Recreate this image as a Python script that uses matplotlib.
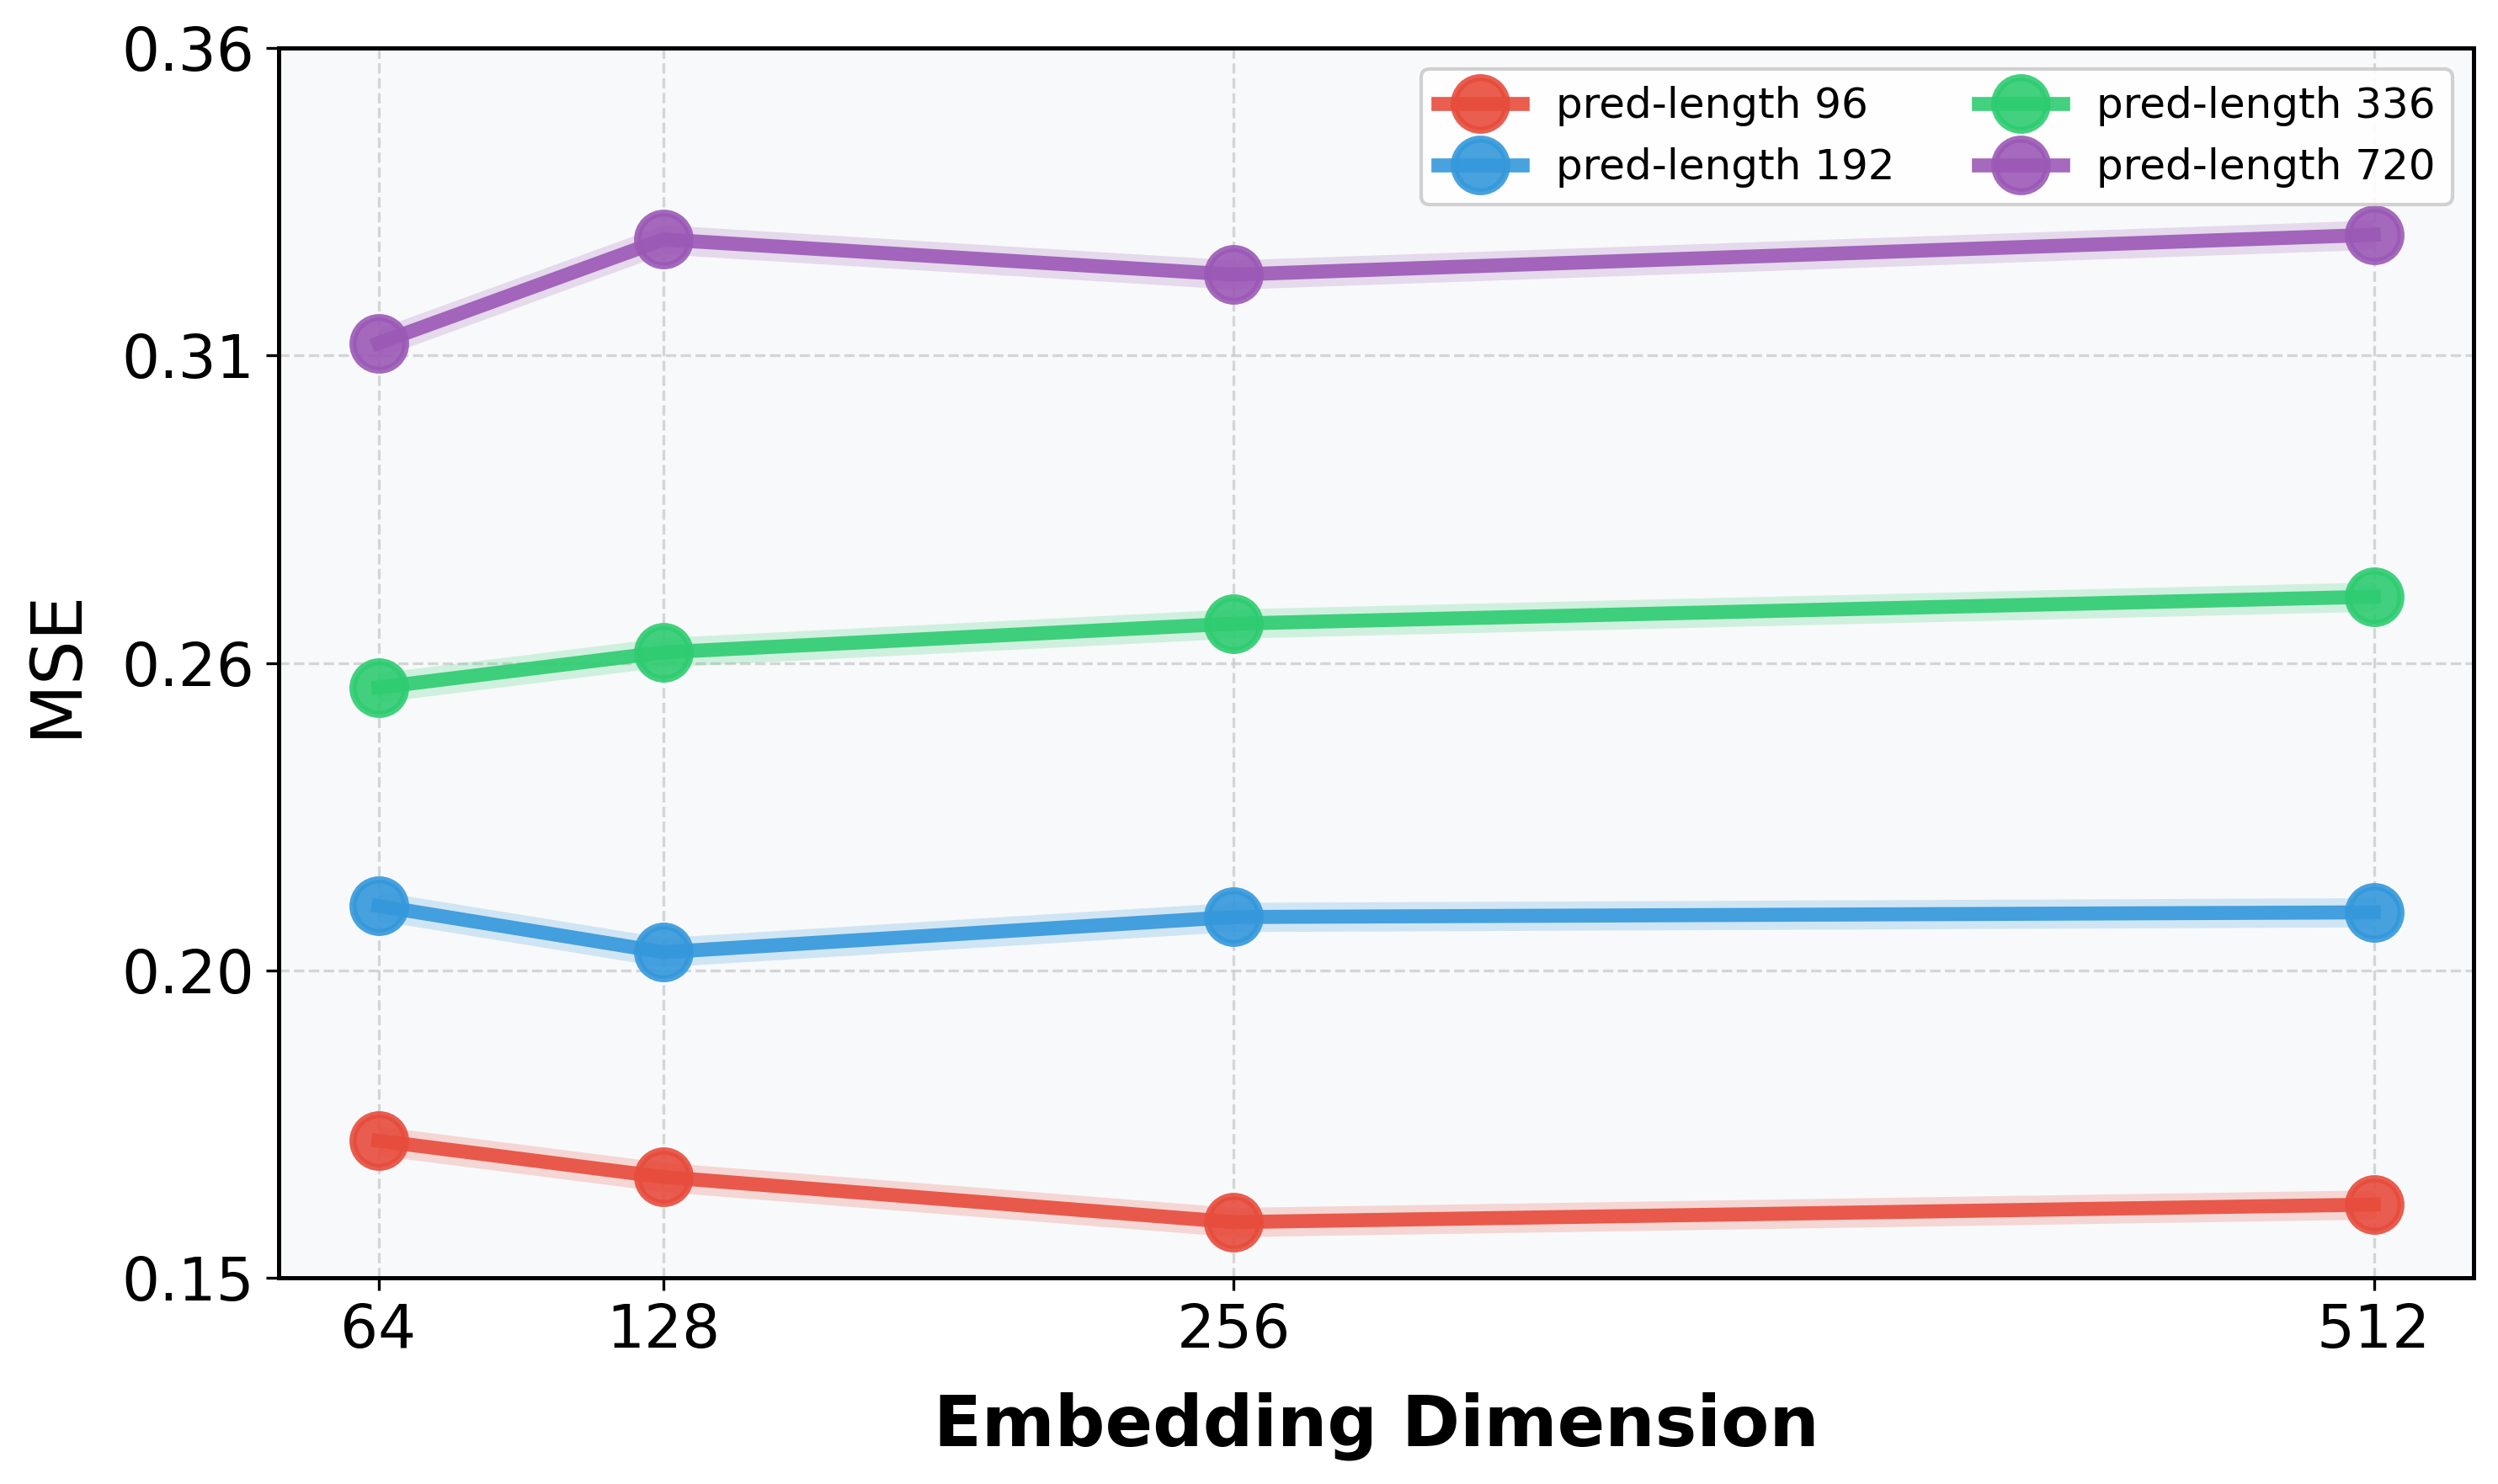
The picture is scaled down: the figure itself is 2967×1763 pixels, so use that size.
import numpy as np
import matplotlib
matplotlib.use("Agg")
import matplotlib.pyplot as plt
from matplotlib.ticker import FormatStrFormatter

emb_dims = [64, 128, 256, 512]
labels = ["pred-length 96", "pred-length 192", "pred-length 336", "pred-length 720"]
mse_96 = [0.1734, 0.1672, 0.1595, 0.1625]
mse_192 = [0.2135, 0.2056, 0.2116, 0.2124]
mse_336 = [0.2508, 0.2568, 0.2617, 0.2663]
mse_720 = [0.3096, 0.3273, 0.3213, 0.3281]
band = [0.0025, 0.0025, 0.0025, 0.0025]
colors = ["#e74c3c", "#3498db", "#2ecc71", "#9b59b6"]

series = [mse_96, mse_192, mse_336, mse_720]

fig = plt.figure(figsize=(2967 / 300, 1763 / 300), dpi=300)
ax = fig.add_axes([331 / 2967, 1 - 1518 / 1763, (2938 - 331) / 2967, (1518 - 57) / 1763])
ax.set_facecolor("#f8f9fa")

for vals, lab, c, b in zip(series, labels, colors, band):
    vals = np.array(vals)
    ax.fill_between(emb_dims, vals - b, vals + b, color=c, alpha=0.2, lw=0)
    ax.plot(emb_dims, vals, "-o", color=c, lw=4, ms=15, mew=2,
            mec=c, mfc=c, alpha=0.9, label=lab, zorder=3)

ax.set_xticks(emb_dims)
ax.set_ylim(0.15, 0.36)
ax.set_yticks(np.linspace(0.15, 0.36, 5))
ax.yaxis.set_major_formatter(FormatStrFormatter("%.2f"))
ax.tick_params(labelsize=17)
ax.grid(True, ls="--", color="#cccccc", lw=0.8, alpha=0.8)
ax.set_axisbelow(True)
for s in ax.spines.values():
    s.set_linewidth(1.2)

ax.set_xlabel("Embedding Dimension", fontsize=20, fontweight="bold", labelpad=9)
ax.set_ylabel("MSE", fontsize=20, labelpad=9)
ax.legend(ncol=2, fontsize=12, loc="upper right", framealpha=0.9)

fig.savefig("out.png", dpi=300)
